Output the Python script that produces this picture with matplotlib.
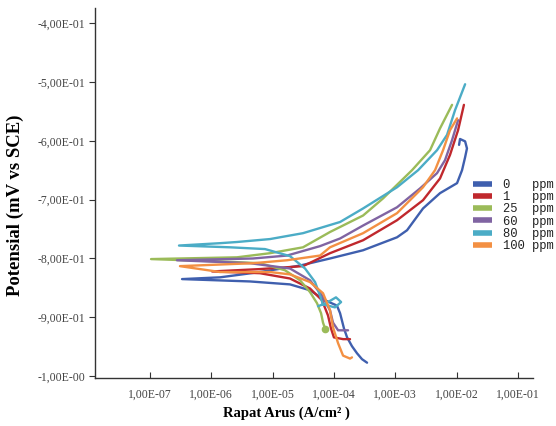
import matplotlib
matplotlib.use("Agg")
import matplotlib.pyplot as plt
import numpy as np

# === data (current density A/cm2, potential V) ===
labels = ["0", "1", "25", "60", "80", "100"]
units = ["   ppm", "   ppm", "  ppm", "  ppm", "  ppm", " ppm"]
colors = ["#3f5fae", "#c0282d", "#9bbb59", "#8064a2", "#4bacc6", "#f39043"]

i_0 = [1.10e-2, 1.14e-2, 1.38e-2, 1.48e-2, 1.38e-2, 1.23e-2, 1.02e-2, 5.38e-3, 2.84e-3, 1.56e-3,
       1.07e-3, 2.99e-4, 8.63e-5, 2.80e-5, 6.22e-6, 1.39e-6, 3.33e-7, 4.28e-6, 1.92e-5, 4.07e-5,
       7.16e-5, 1.12e-4, 1.26e-4, 1.46e-4, 1.64e-4, 1.97e-4, 2.38e-4, 2.87e-4, 3.47e-4]
e_0 = [-0.607, -0.597, -0.601, -0.613, -0.628, -0.650, -0.672, -0.689, -0.715, -0.752,
       -0.764, -0.786, -0.800, -0.812, -0.823, -0.832, -0.835, -0.839, -0.844, -0.854,
       -0.871, -0.880, -0.893, -0.919, -0.934, -0.949, -0.961, -0.971, -0.977]

i_1 = [1.32e-2, 1.06e-2, 7.83e-3, 5.38e-3, 2.84e-3, 1.07e-3, 2.99e-4, 8.63e-5, 3.13e-5, 6.22e-6,
       1.03e-6, 6.22e-6, 1.92e-5, 4.07e-5, 6.40e-5, 8.02e-5, 8.97e-5, 1.00e-4, 1.41e-4, 1.83e-4]
e_1 = [-0.539, -0.582, -0.624, -0.664, -0.701, -0.735, -0.769, -0.791, -0.813, -0.818,
       -0.822, -0.825, -0.834, -0.851, -0.871, -0.897, -0.919, -0.934, -0.937, -0.937]

i_25 = [8.45e-3, 5.38e-3, 3.70e-3, 1.88e-3, 6.32e-4, 2.99e-4, 8.63e-5, 3.13e-5, 9.08e-6, 2.62e-6,
        1.04e-7, 1.39e-6, 6.22e-6, 1.59e-5, 2.80e-5, 4.07e-5, 5.30e-5, 6.17e-5, 6.64e-5, 7.16e-5]
e_25 = [-0.539, -0.579, -0.616, -0.650, -0.698, -0.727, -0.755, -0.781, -0.791, -0.798,
        -0.801, -0.805, -0.808, -0.820, -0.837, -0.857, -0.876, -0.893, -0.909, -0.919]

i_60 = [1.06e-2, 8.45e-3, 6.49e-3, 4.81e-3, 2.54e-3, 1.07e-3, 2.99e-4, 1.26e-4, 5.93e-5, 1.72e-5,
        4.79e-6, 2.75e-7, 4.28e-6, 1.92e-5, 4.07e-5, 6.40e-5, 8.63e-5, 9.66e-5, 1.17e-4, 1.70e-4]
e_60 = [-0.565, -0.599, -0.633, -0.655, -0.681, -0.713, -0.744, -0.766, -0.779, -0.795,
        -0.800, -0.803, -0.808, -0.817, -0.837, -0.863, -0.888, -0.909, -0.922, -0.922]

i_80 = [1.38e-2, 9.46e-3, 7.00e-3, 4.81e-3, 2.36e-3, 1.07e-3, 2.99e-4, 1.26e-4, 3.13e-5, 9.08e-6,
        2.62e-6, 1.39e-6, 2.97e-7, 2.02e-6, 7.52e-6, 1.92e-5, 3.38e-5, 4.92e-5, 5.93e-5, 6.64e-5,
        1.04e-4, 1.31e-4, 1.08e-4, 7.43e-5, 5.51e-5]
e_80 = [-0.504, -0.548, -0.590, -0.616, -0.650, -0.679, -0.715, -0.738, -0.757, -0.767,
        -0.772, -0.774, -0.778, -0.781, -0.784, -0.796, -0.817, -0.840, -0.863, -0.878,
        -0.883, -0.874, -0.866, -0.876, -0.881]

i_100 = [1.02e-2, 7.83e-3, 6.03e-3, 4.46e-3, 2.84e-3, 1.07e-3, 2.99e-4, 8.63e-5, 5.93e-5, 1.72e-5,
         4.79e-6, 3.08e-7, 1.39e-6, 9.08e-6, 1.92e-5, 4.07e-5, 6.64e-5, 8.63e-5, 9.66e-5, 1.17e-4,
         1.41e-4, 1.83e-4, 1.97e-4]
e_100 = [-0.562, -0.582, -0.616, -0.650, -0.679, -0.723, -0.757, -0.781, -0.795, -0.803,
         -0.808, -0.813, -0.823, -0.823, -0.827, -0.840, -0.859, -0.888, -0.917, -0.944,
         -0.965, -0.970, -0.968]

currents = [i_0, i_1, i_25, i_60, i_80, i_100]
potentials = [e_0, e_1, e_25, e_60, e_80, e_100]

xticks = [1e-7, 1e-6, 1e-5, 1e-4, 1e-3, 1e-2, 1e-1]
xticklabels = ["1,00E-07", "1,00E-06", "1,00E-05", "1,00E-04", "1,00E-03", "1,00E-02", "1,00E-01"]
yticks = [-0.4, -0.5, -0.6, -0.7, -0.8, -0.9, -1.0]
yticklabels = ["-4,00E-01", "-5,00E-01", "-6,00E-01", "-7,00E-01", "-8,00E-01", "-9,00E-01", "-1,00E-00"]

fig = plt.figure(figsize=(5.56, 4.26), dpi=100)
ax = fig.add_axes([0.1709, 0.1127, 0.7878, 0.8685])

for cur, pot, col, lab, u in zip(currents, potentials, colors, labels, units):
    ax.plot(cur, pot, color=col, lw=1.7, solid_capstyle="round", solid_joinstyle="round",
            label=lab + u)
# blob at the end of the 25 ppm curve
ax.plot(i_25[-1], e_25[-1], "o", color=colors[2], ms=4.5)

ax.set_xscale("log")
ax.set_xlim(10 ** -7.897, 10 ** -0.752)
ax.set_ylim(-1.003, -0.3745)
ax.set_xticks(xticks)
ax.set_xticklabels(xticklabels)
ax.xaxis.set_minor_locator(matplotlib.ticker.NullLocator())
ax.set_yticks(yticks)
ax.set_yticklabels(yticklabels)

for s in ["top", "right"]:
    ax.spines[s].set_visible(False)
for s in ["left", "bottom"]:
    ax.spines[s].set_color("#333333")
    ax.spines[s].set_linewidth(1.0)

ax.tick_params(axis="x", direction="in", length=4, pad=8, colors="#333333",
               labelsize=8.5, labelcolor="#444444")
ax.tick_params(axis="y", direction="out", length=4, pad=3, colors="#333333",
               labelsize=8.5, labelcolor="#444444")
for t in ax.get_xticklabels() + ax.get_yticklabels():
    t.set_fontfamily("Liberation Serif")

ax.set_xlabel("Rapat Arus (A/cm² )", fontfamily="Liberation Serif", fontweight="bold",
              fontsize=10.5)
ax.xaxis.set_label_coords(0.438, -0.078)
ax.set_ylabel("Potensial (mV vs SCE)", fontfamily="Liberation Serif", fontweight="bold",
              fontsize=13.5)
ax.yaxis.set_label_coords(-0.162, 0.468)

leg = ax.legend(loc="upper left", bbox_to_anchor=(473 / 556, 1 - 179 / 426),
                bbox_transform=fig.transFigure, frameon=False,
                prop={"family": "Liberation Mono", "size": 8.7},
                handlelength=1.57, handletextpad=0.91, labelspacing=0.02,
                borderaxespad=0, borderpad=0)
for h in leg.get_lines():
    h.set_linewidth(4)
    h.set_solid_capstyle("butt")
for t in leg.get_texts():
    t.set_color("#222222")

fig.savefig("out.png", dpi=100)
